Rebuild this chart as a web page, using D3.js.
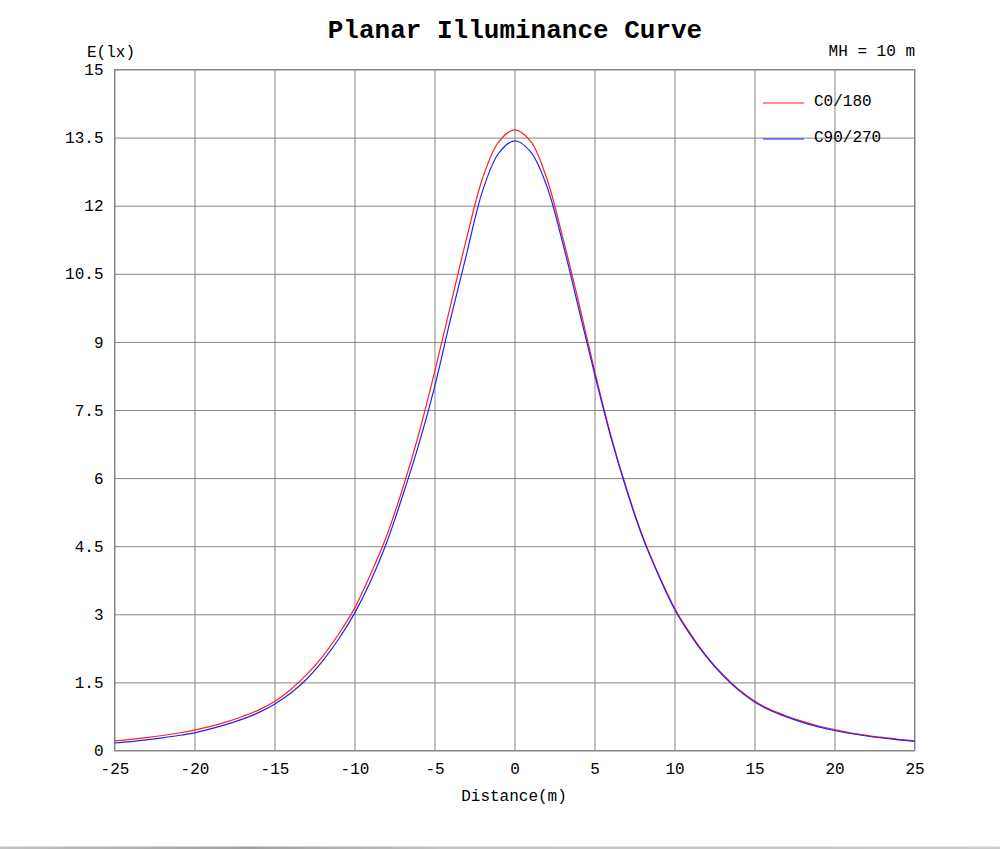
<!DOCTYPE html>
<html>
<head>
<meta charset="utf-8">
<script src="https://cdn.jsdelivr.net/npm/d3@7"></script>
<style>
  body { margin: 0; background: #fff; }
  svg { display: block; font-family: "Liberation Mono", "Courier New", monospace; }
</style>
</head>
<body>
<svg id="chart" width="1000" height="849"></svg>
<script>
// distance along the road (m)
const distances = [-25, -24, -23, -22, -21, -20, -19, -18, -17, -16, -15, -14, -13, -12, -11, -10,
  -9, -8, -7, -6, -5, -4, -3, -2, -1, 0, 1, 2, 3, 4, 5, 6, 7, 8, 9, 10,
  11, 12, 13, 14, 15, 16, 17, 18, 19, 20, 21, 22, 23, 24, 25];

// illuminance (lx)
const c0_180 = [0.21, 0.244, 0.283, 0.33, 0.385, 0.45, 0.53, 0.63, 0.75, 0.89, 1.08, 1.34, 1.67, 2.07, 2.56, 3.13,
  3.88, 4.72, 5.76, 6.95, 8.33, 9.8, 11.27, 12.6, 13.4, 13.67, 13.42, 12.62, 11.32, 9.89, 8.37, 6.97, 5.77, 4.73, 3.88, 3.14,
  2.57, 2.08, 1.68, 1.35, 1.09, 0.9, 0.76, 0.64, 0.54, 0.46, 0.39, 0.335, 0.287, 0.247, 0.212];
const c90_270 = [0.165, 0.195, 0.235, 0.28, 0.33, 0.39, 0.475, 0.575, 0.69, 0.835, 1.02, 1.26, 1.57, 1.97, 2.45, 3.02,
  3.72, 4.57, 5.6, 6.72, 8.0, 9.5, 10.93, 12.32, 13.15, 13.43, 13.19, 12.45, 11.2, 9.75, 8.3, 6.93, 5.74, 4.7, 3.86, 3.11,
  2.54, 2.06, 1.66, 1.33, 1.07, 0.88, 0.74, 0.62, 0.52, 0.44, 0.375, 0.32, 0.275, 0.235, 0.2];

const xTicks = [-25, -20, -15, -10, -5, 0, 5, 10, 15, 20, 25];
const yTicks = [0, 1.5, 3, 4.5, 6, 7.5, 9, 10.5, 12, 13.5, 15];
const yTickLabels = ["0", "1.5", "3", "4.5", "6", "7.5", "9", "10.5", "12", "13.5", "15"];

const seriesNames = ["C0/180", "C90/270"];
const seriesColors = ["#ff2020", "#2020ff"];

const svg = d3.select("#chart");
const plotLeft = 114.5, plotRight = 914.5, plotTop = 69.5, plotBottom = 750.5;
const gridColor = "#858585";

const x = d3.scaleLinear().domain([-25, 25]).range([plotLeft, plotRight]);
const y = d3.scaleLinear().domain([0, 15]).range([plotBottom, plotTop]);

// title + labels
svg.append("text")
  .attr("x", 515).attr("y", 38)
  .attr("text-anchor", "middle")
  .attr("font-size", 26).attr("font-weight", "bold")
  .text("Planar Illuminance Curve");

svg.append("text")
  .attr("x", 111).attr("y", 57)
  .attr("text-anchor", "middle")
  .attr("font-size", 16)
  .text("E(lx)");

svg.append("text")
  .attr("x", 915).attr("y", 56)
  .attr("text-anchor", "end")
  .attr("font-size", 16)
  .text("MH = 10 m");

svg.append("text")
  .attr("x", 514).attr("y", 801)
  .attr("text-anchor", "middle")
  .attr("font-size", 16)
  .text("Distance(m)");

// grid + tick labels
const xAxis = d3.axisBottom(x)
  .tickValues(xTicks)
  .tickFormat(d => String(d))
  .tickSizeInner(-(plotBottom - plotTop))
  .tickSizeOuter(0)
  .tickPadding(12);

const yAxis = d3.axisLeft(y)
  .tickValues(yTicks)
  .tickFormat((d, i) => yTickLabels[i])
  .tickSizeInner(-(plotRight - plotLeft))
  .tickSizeOuter(0)
  .tickPadding(11);

const gx = svg.append("g").attr("transform", `translate(0,${plotBottom})`).call(xAxis);
const gy = svg.append("g").attr("transform", `translate(${plotLeft},0)`).call(yAxis);

[gx, gy].forEach(g => {
  g.select(".domain").remove();
  g.selectAll(".tick line").attr("stroke", gridColor);
  g.selectAll(".tick text")
    .attr("font-family", "'Liberation Mono', 'Courier New', monospace")
    .attr("font-size", 16)
    .attr("fill", "#000");
});

svg.append("rect")
  .attr("x", plotLeft).attr("y", plotTop)
  .attr("width", plotRight - plotLeft).attr("height", plotBottom - plotTop)
  .attr("fill", "none").attr("stroke", gridColor);

// curves
const line = d3.line()
  .x((d, i) => x(distances[i]))
  .y(d => y(d))
  .curve(d3.curveCatmullRom.alpha(0.5));

[c0_180, c90_270].forEach((vals, i) => {
  svg.append("path")
    .datum(vals)
    .attr("fill", "none")
    .attr("stroke", seriesColors[i])
    .attr("stroke-width", 1.2)
    .attr("d", line);
});

// legend
const legend = svg.append("g");
seriesNames.forEach((name, i) => {
  const ly = 103 + i * 36;
  legend.append("line")
    .attr("x1", 763).attr("x2", 804)
    .attr("y1", ly).attr("y2", ly)
    .attr("stroke", seriesColors[i]).attr("stroke-width", 1.2);
  legend.append("text")
    .attr("x", 814).attr("y", ly + 3)
    .attr("font-size", 16)
    .text(name);
});

// thin grey bar at the bottom of the picture
const grad = svg.append("defs").append("linearGradient").attr("id", "bar");
grad.append("stop").attr("offset", "0%").attr("stop-color", "#c2c2c2");
grad.append("stop").attr("offset", "25%").attr("stop-color", "#a0a0a0");
grad.append("stop").attr("offset", "45%").attr("stop-color", "#c4c4c4");
grad.append("stop").attr("offset", "100%").attr("stop-color", "#cccccc");
svg.append("rect")
  .attr("x", 0).attr("y", 846.5)
  .attr("width", 1000).attr("height", 2.5)
  .attr("fill", "url(#bar)");
</script>
</body>
</html>
